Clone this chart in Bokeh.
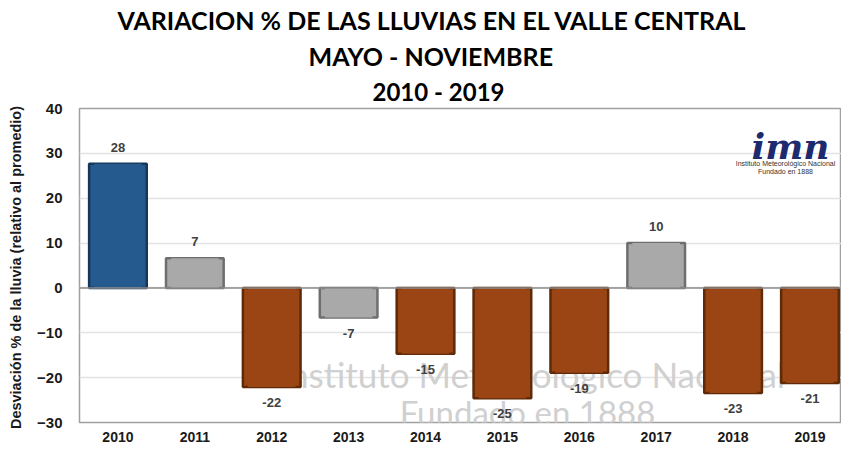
from bokeh.plotting import figure
from bokeh.models import ColumnDataSource, FixedTicker, Label, Range1d, Span, Title
from bokeh.core.properties import value
from bokeh.embed import file_html
from bokeh.resources import INLINE

years = [2010, 2011, 2012, 2013, 2014, 2015, 2016, 2017, 2018, 2019]
variation = [27.7, 6.6, -22.1, -6.6, -14.7, -24.6, -18.9, 10.0, -23.4, -21.2]
y_ticks = [-30, -20, -10, 0, 10, 20, 30, 40]
title_lines = ["VARIACION % DE LAS LLUVIAS EN EL VALLE CENTRAL",
               "MAYO - NOVIEMBRE",
               "2010 - 2019"]
y_label = "Desviación  % de la lluvia (relativo al promedio)"
org_name = "Instituto Meteorológico Nacional"
org_since = "Fundado en 1888"
logo_text = "imn"


def fill_for(v):
    if v >= 20:
        return "#255a8e"
    if v <= -10:
        return "#9a4513"
    return "#a9a9a9"


def edge_for(v):
    if v >= 20:
        return "#16375a"
    if v <= -10:
        return "#5e2a08"
    return "#6e6e6e"


src = ColumnDataSource(dict(
    x=years,
    top=variation,
    fill=[fill_for(v) for v in variation],
    edge=[edge_for(v) for v in variation],
))
pos = ColumnDataSource(dict(
    x=[x for x, v in zip(years, variation) if v >= 0],
    y=[v for v in variation if v >= 0],
    lbl=[str(int(round(v))) for v in variation if v >= 0],
))
neg = ColumnDataSource(dict(
    x=[x for x, v in zip(years, variation) if v < 0],
    y=[v for v in variation if v < 0],
    lbl=[str(int(round(v))) for v in variation if v < 0],
))

p = figure(width=841, height=450, output_backend="svg", toolbar_location=None,
           x_range=Range1d(2009.5, 2019.41), y_range=Range1d(-30, 40),
           min_border_left=79, min_border_right=0, min_border_top=0,
           min_border_bottom=28)
p.background_fill_color = "white"
p.border_fill_color = "white"
p.outline_line_color = "#a0a0a0"
p.outline_line_width = 1.5

# titles: p.title is outermost, added titles stack outward from the frame
p.title.text = title_lines[0]
p.title.text_font = "Lato"
p.title.text_font_style = "bold"
p.title.text_font_size = "25px"
p.title.text_color = "#000000"
p.title.align = "left"
p.title.offset = 38
p.title.standoff = 4
p.add_layout(Title(text=title_lines[2], text_font="Lato", text_font_style="bold",
                   text_font_size="24px", text_color="#000000", align="left",
                   offset=293, standoff=5), "above")
p.add_layout(Title(text=title_lines[1], text_font="Lato", text_font_style="bold",
                   text_font_size="25px", text_color="#000000", align="left",
                   offset=229, standoff=4), "above")

# watermark texts (behind the bars)
wm_kw = dict(x_units="screen", y_units="screen", level="underlay")
p.add_layout(Label(x=200, y=49, text=org_name, text_font="Lato",
                   text_font_size="35px", text_color="#d0d0d0",
                   text_baseline="middle", **wm_kw))
p.add_layout(Label(x=448, y=11, text=org_since, text_font="Lato",
                   text_font_size="33px", text_color="#d0d0d0",
                   text_align="center", text_baseline="middle", **wm_kw))

p.ygrid.grid_line_color = "#e3e3e3"
p.ygrid.grid_line_width = 1.5
p.xgrid.grid_line_color = None
p.add_layout(Span(location=0, dimension="width", line_color="#8c8c8c", line_width=1.5))

p.vbar(x="x", top="top", bottom=0, width=0.75, source=src,
       fill_color="fill", line_color="edge", line_width=2.5)
p.vbar(x="x", top="top", bottom=0, width=0.62, source=src,
       fill_color="fill", line_color=None, fill_alpha=1.0)

p.text(x="x", y="y", text="lbl", source=pos, text_align="center",
       text_baseline="bottom", y_offset=-12, text_font=value("Liberation Sans"),
       text_font_style="bold", text_font_size="13px", text_color="#404040")
p.text(x="x", y="y", text="lbl", source=neg, text_align="center",
       text_baseline="top", y_offset=11, text_font=value("Liberation Sans"),
       text_font_style="bold", text_font_size="13px", text_color="#404040")

# axes
p.yaxis.ticker = FixedTicker(ticks=y_ticks)
p.xaxis.ticker = FixedTicker(ticks=years)
for ax in (p.xaxis, p.yaxis):
    ax.axis_line_color = None
    ax.major_tick_line_color = None
    ax.minor_tick_line_color = None
    ax.major_tick_out = 0
    ax.major_label_text_font = "Liberation Sans"
    ax.major_label_text_font_style = "bold"
    ax.major_label_text_color = "#1a1a1a"
p.yaxis.major_label_text_font_size = "15px"
p.xaxis.major_label_text_font_size = "14px"
p.yaxis.major_label_standoff = 17
p.xaxis.major_label_standoff = 9
p.yaxis.axis_label = y_label
p.yaxis.axis_label_text_font = "Liberation Sans"
p.yaxis.axis_label_text_font_style = "bold"
p.yaxis.axis_label_text_font_size = "14.5px"
p.yaxis.axis_label_text_color = "#1a1a1a"
p.yaxis.axis_label_standoff = 10

# logo
p.add_layout(Label(x=711, y=277, x_units="screen", y_units="screen", text=logo_text,
                   text_font="DejaVu Serif", text_font_style="bold italic",
                   text_font_size="36px", text_color="#1d2a6e",
                   text_align="center", text_baseline="middle"))
p.add_layout(Label(x=706, y=259, x_units="screen", y_units="screen", text=org_name,
                   text_font="Liberation Sans", text_font_size="7px",
                   text_color="#333333", text_align="center", text_baseline="middle"))
p.add_layout(Label(x=706, y=251, x_units="screen", y_units="screen", text=org_since,
                   text_font="Liberation Sans", text_font_size="7px",
                   text_color="#333333", text_align="center", text_baseline="middle"))

open("out.html", "w").write(file_html(p, INLINE))
